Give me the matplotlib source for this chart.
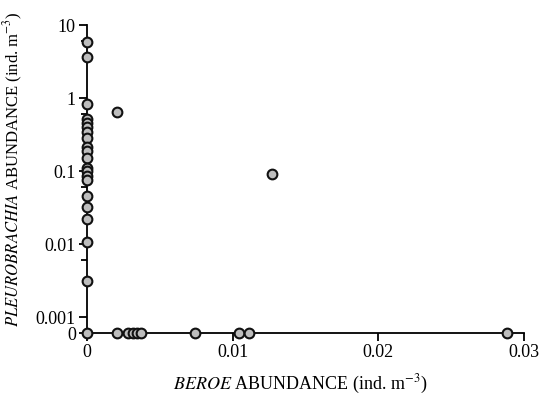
import numpy as np
import matplotlib.pyplot as plt
from matplotlib.ticker import FixedLocator, NullFormatter

plt.rcParams['font.family'] = ['Liberation Serif', 'DejaVu Serif']
plt.rcParams['mathtext.fontset'] = 'stix'

# abundance pairs (ind. m-3): beroe on x, pleurobrachia on y
beroe = [0, 0, 0, 0, 0, 0, 0, 0, 0, 0, 0, 0, 0, 0, 0, 0, 0, 0, 0, 0,
         0.00204, 0.0127,
         0.00204, 0.00284, 0.00318, 0.00345, 0.00371, 0.00741,
         0.01046, 0.01114, 0.0288, 0]
pleuro = [5.8, 3.7, 0.82, 0.52, 0.45, 0.40, 0.34, 0.28, 0.21, 0.19, 0.15,
          0.11, 0.1, 0.085, 0.075, 0.045, 0.032, 0.022, 0.0105, 0.0031,
          0.64, 0.092,
          0, 0, 0, 0, 0, 0, 0, 0, 0, 0]

# zeros sit on the baseline of the log axis
zero_pos = 10 ** -3.219
ytick_vals = [zero_pos, 0.001, 0.01, 0.1, 1, 10]
ytick_text = ['0', '0.001', '0.01', '0.1', '1', '10']
xtick_vals = [0, 0.01, 0.02, 0.03]
xtick_text = ['0', '0.01', '0.02', '0.03']

x = np.array(beroe)
y = np.array(pleuro, dtype=float)
y[y == 0] = zero_pos

fig = plt.figure(figsize=(5.39, 3.96), dpi=100)
ax = fig.add_axes([87 / 539, 1 - 333 / 396, (524 - 87) / 539, (333 - 25) / 396])

ax.plot(x, y, 'o', ms=7, mfc='#bdbdbd', mec='#111111', mew=1.5,
        clip_on=False, zorder=3)

ax.set_yscale('log')
ax.set_xlim(0, 0.03)
ax.set_ylim(zero_pos, 10)

ax.yaxis.set_major_locator(FixedLocator(ytick_vals))
ax.set_yticklabels(ytick_text)
ax.yaxis.set_minor_locator(FixedLocator([6, 0.6, 0.06, 0.006]))
ax.yaxis.set_minor_formatter(NullFormatter())
ax.set_xticks(xtick_vals)
ax.set_xticklabels(xtick_text)

for side in ['top', 'right']:
    ax.spines[side].set_visible(False)
for side in ['left', 'bottom']:
    ax.spines[side].set_linewidth(1.3)

ax.tick_params(which='major', direction='out', length=6, width=1.3,
               labelsize=13, pad=2)
ax.tick_params(which='minor', direction='out', length=4, width=1.3)

ax.set_xlabel(r'$\mathit{BEROE}$ ABUNDANCE (ind. m$^{-3}$)', fontsize=13)
ax.set_ylabel(r'$\mathit{PLEUROBRACHIA}$ ABUNDANCE (ind. m$^{-3}$)',
              fontsize=12)
ax.xaxis.set_label_coords(0.488, -0.13)
ax.yaxis.set_label_coords(-0.142, 0.53)

fig.savefig('out.png', dpi=100)
